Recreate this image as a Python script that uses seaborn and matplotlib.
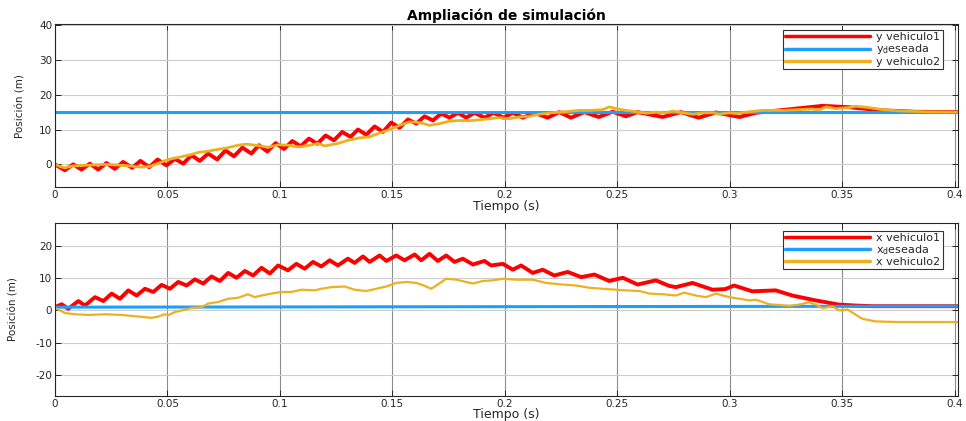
import numpy as np
import pandas as pd
import matplotlib
matplotlib.use("Agg")
import matplotlib.pyplot as plt
import seaborn as sns
from matplotlib.ticker import FormatStrFormatter

# ====================== datos ======================
t_des = [0.0, 0.402]
y_des = [15.0, 15.0]
x_des = [1.0, 1.3]

# (tiempo, posicion) - y vehiculo1
y_veh1 = [
    (0.0000, 0.0), (0.0044, -1.7), (0.0081, 0.0), (0.0118, -1.5), (0.0155, 0.2),
    (0.0192, -1.5), (0.0229, 0.4), (0.0266, -1.3), (0.0303, 0.7), (0.0343, -1.0),
    (0.0380, 1.0), (0.0419, -0.8), (0.0456, 1.4), (0.0496, -0.3), (0.0533, 1.6),
    (0.0570, 0.2), (0.0607, 2.6), (0.0644, 1.0), (0.0681, 3.1), (0.0721, 1.4),
    (0.0758, 4.0), (0.0796, 2.3), (0.0833, 4.8), (0.0873, 3.1), (0.0907, 5.5),
    (0.0944, 3.7), (0.0981, 6.1), (0.1018, 4.4), (0.1055, 6.7), (0.1092, 5.2),
    (0.1129, 7.4), (0.1166, 5.9), (0.1203, 8.3), (0.1240, 6.9), (0.1277, 9.3),
    (0.1314, 7.9), (0.1347, 10.0), (0.1384, 8.5), (0.1421, 10.9), (0.1458, 9.3),
    (0.1495, 12.0), (0.1532, 10.5), (0.1569, 12.9), (0.1606, 11.7), (0.1643, 13.8),
    (0.1680, 12.6), (0.1717, 14.6), (0.1754, 13.4), (0.1791, 14.8), (0.1828, 13.4),
    (0.1865, 14.8), (0.1910, 13.4), (0.1950, 14.8), (0.1994, 13.4), (0.2035, 14.8),
    (0.2080, 13.4), (0.2131, 14.8), (0.2190, 13.4), (0.2242, 15.0), (0.2294, 13.4),
    (0.2353, 15.0), (0.2417, 13.6), (0.2479, 15.1), (0.2538, 13.8), (0.2590, 15.0),
    (0.2701, 13.6), (0.2783, 15.0), (0.2861, 13.4), (0.2938, 14.9), (0.3042, 13.6),
    (0.3116, 14.8), (0.3204, 15.4), (0.3308, 16.1), (0.3412, 16.8), (0.3530, 16.4),
    (0.3678, 15.5), (0.3826, 15.1), (0.4020, 15.0),
]

# y vehiculo2
y_veh2 = [
    (0.0000, 0.0), (0.0022, -0.6), (0.0044, -1.0), (0.0074, -0.5), (0.0118, -0.3),
    (0.0163, -0.2), (0.0222, 0.0), (0.0281, -0.2), (0.0340, -0.5), (0.0385, -0.8),
    (0.0422, -0.6), (0.0459, 0.3), (0.0503, 1.4), (0.0548, 2.0), (0.0592, 2.6),
    (0.0636, 3.4), (0.0681, 3.8), (0.0725, 4.3), (0.0770, 4.8), (0.0814, 5.5),
    (0.0851, 5.8), (0.0903, 5.4), (0.0947, 4.9), (0.0992, 5.6), (0.1036, 5.5),
    (0.1080, 5.0), (0.1125, 5.4), (0.1169, 6.0), (0.1199, 5.3), (0.1258, 6.0),
    (0.1302, 6.9), (0.1332, 7.3), (0.1354, 7.6), (0.1399, 7.9), (0.1443, 9.0),
    (0.1488, 10.0), (0.1532, 11.2), (0.1576, 12.2), (0.1621, 12.0), (0.1665, 11.2),
    (0.1710, 11.7), (0.1754, 12.4), (0.1798, 12.6), (0.1843, 12.5), (0.1887, 12.8),
    (0.1932, 13.1), (0.1976, 13.4), (0.2020, 13.1), (0.2065, 13.6), (0.2109, 13.8),
    (0.2154, 14.4), (0.2198, 14.8), (0.2242, 15.0), (0.2287, 15.2), (0.2331, 15.5),
    (0.2376, 15.5), (0.2435, 15.7), (0.2464, 16.5), (0.2494, 16.0), (0.2538, 15.5),
    (0.2583, 15.1), (0.2627, 14.7), (0.2672, 15.0), (0.2716, 14.8), (0.2746, 15.3),
    (0.2790, 14.8), (0.2834, 14.4), (0.2879, 14.8), (0.2923, 14.8), (0.2953, 14.4),
    (0.2997, 14.8), (0.3027, 14.6), (0.3086, 15.1), (0.3145, 15.5), (0.3234, 15.5),
    (0.3308, 15.7), (0.3367, 15.9), (0.3397, 15.6), (0.3426, 16.5), (0.3471, 16.0),
    (0.3530, 16.3), (0.3560, 16.7), (0.3619, 16.3), (0.3678, 15.7), (0.3767, 15.3),
    (0.3870, 15.1), (0.4020, 15.0),
]

# x vehiculo1
x_veh1 = [
    (0.0000, 1.0), (0.0030, 1.9), (0.0059, 0.5), (0.0104, 2.9), (0.0133, 1.5),
    (0.0178, 4.1), (0.0215, 2.9), (0.0252, 5.2), (0.0289, 3.6), (0.0326, 6.2),
    (0.0363, 4.6), (0.0400, 6.7), (0.0437, 5.7), (0.0474, 7.9), (0.0511, 6.7),
    (0.0548, 8.8), (0.0585, 7.7), (0.0622, 9.6), (0.0659, 8.3), (0.0696, 10.5),
    (0.0733, 9.1), (0.0770, 11.6), (0.0807, 10.1), (0.0844, 12.2), (0.0881, 10.8),
    (0.0918, 13.2), (0.0955, 11.4), (0.0992, 13.9), (0.1036, 12.4), (0.1073, 14.4),
    (0.1110, 12.9), (0.1147, 15.0), (0.1184, 13.6), (0.1221, 15.5), (0.1258, 13.9),
    (0.1302, 16.0), (0.1332, 14.7), (0.1369, 16.7), (0.1399, 15.0), (0.1443, 17.0),
    (0.1473, 15.3), (0.1517, 17.0), (0.1554, 15.5), (0.1599, 17.3), (0.1628, 15.5),
    (0.1665, 17.5), (0.1702, 15.3), (0.1739, 17.0), (0.1776, 15.0), (0.1813, 16.0),
    (0.1858, 14.2), (0.1909, 15.3), (0.1939, 13.9), (0.1991, 14.4), (0.2035, 12.6),
    (0.2072, 13.9), (0.2124, 11.6), (0.2168, 12.6), (0.2220, 10.8), (0.2279, 11.9),
    (0.2339, 10.3), (0.2398, 11.1), (0.2464, 9.1), (0.2524, 10.1), (0.2590, 8.0),
    (0.2671, 9.3), (0.2730, 7.6), (0.2760, 7.2), (0.2834, 8.5), (0.2923, 6.4),
    (0.2980, 6.6), (0.3019, 7.7), (0.3100, 5.9), (0.3204, 6.2), (0.3278, 4.6),
    (0.3381, 3.1), (0.3485, 1.8), (0.3560, 1.5), (0.3633, 1.3), (0.4020, 1.3),
]

# x vehiculo2
x_veh2 = [
    (0.0000, 0.8), (0.0044, -0.8), (0.0089, -1.2), (0.0148, -1.4), (0.0222, -1.2),
    (0.0296, -1.4), (0.0370, -1.9), (0.0429, -2.3), (0.0459, -1.9), (0.0488, -1.2),
    (0.0503, -1.5), (0.0533, -0.5), (0.0577, 0.2), (0.0607, 0.8), (0.0651, 1.0),
    (0.0681, 2.1), (0.0725, 2.6), (0.0770, 3.6), (0.0814, 3.9), (0.0858, 5.0),
    (0.0888, 4.1), (0.0918, 4.6), (0.0962, 5.2), (0.1006, 5.7), (0.1051, 5.7),
    (0.1095, 6.4), (0.1154, 6.2), (0.1184, 6.7), (0.1228, 7.2), (0.1288, 7.4),
    (0.1332, 6.4), (0.1384, 6.0), (0.1428, 6.7), (0.1473, 7.4), (0.1517, 8.5),
    (0.1562, 8.8), (0.1606, 8.5), (0.1640, 7.7), (0.1673, 6.7), (0.1695, 7.7),
    (0.1739, 9.8), (0.1784, 9.5), (0.1828, 8.8), (0.1858, 8.3), (0.1902, 9.1),
    (0.1946, 9.3), (0.1991, 9.8), (0.2050, 9.5), (0.2124, 9.5), (0.2183, 8.5),
    (0.2257, 8.0), (0.2316, 7.7), (0.2376, 7.0), (0.2435, 6.7), (0.2494, 6.4),
    (0.2538, 6.2), (0.2598, 6.0), (0.2642, 5.2), (0.2701, 5.0), (0.2760, 4.6),
    (0.2797, 5.5), (0.2849, 4.6), (0.2894, 4.1), (0.2938, 5.2), (0.2997, 4.1),
    (0.3042, 3.6), (0.3086, 3.1), (0.3116, 3.3), (0.3175, 1.9), (0.3264, 1.4),
    (0.3308, 1.8), (0.3352, 2.5), (0.3382, 1.8), (0.3412, 0.7), (0.3456, 1.2),
    (0.3486, 0.0), (0.3523, 0.3), (0.3552, -1.0), (0.3589, -2.6), (0.3648, -3.4),
    (0.3752, -3.6), (0.4020, -3.6),
]

x_ticks = [0, 0.05, 0.1, 0.15, 0.2, 0.25, 0.3, 0.35, 0.4]
top_yticks = [0, 10, 20, 30, 40]
bot_yticks = [-20, -10, 0, 10, 20]

RED = "#ff0000"
BLUE = "#1a9fff"
ORANGE = "#edb120"
DARK = "#262626"

# ====================== estilo ======================
sns.set_theme(style="whitegrid")
plt.rcParams["font.family"] = ["DejaVu Sans"]
plt.rcParams["mathtext.fontset"] = "dejavusans"
plt.rcParams["axes.unicode_minus"] = False

fig = plt.figure(figsize=(9.66, 4.21), dpi=100)
ax_top = fig.add_axes([0.0569, 0.555, 0.935, 0.388])
ax_bot = fig.add_axes([0.0569, 0.060, 0.935, 0.410])


def to_df(pts):
    return pd.DataFrame(pts, columns=["t", "pos"])


def style_axes(ax, yticks, ylim):
    ax.set_xlim(0, 0.4015)
    ax.set_ylim(*ylim)
    ax.set_xticks(x_ticks)
    ax.set_yticks(yticks)
    ax.xaxis.set_major_formatter(FormatStrFormatter("%g"))
    ax.set_axisbelow(True)
    ax.xaxis.grid(True, color="#8c8c8c", lw=0.8)
    ax.yaxis.grid(True, color="#cdcdcd", lw=0.8)
    for sp in ax.spines.values():
        sp.set_visible(True)
        sp.set_color(DARK)
        sp.set_linewidth(0.8)
    ax.tick_params(direction="in", length=4, width=0.7, top=True, right=True,
                   bottom=True, left=True, labelsize=7.5, colors=DARK, pad=2)
    ax.set_xlabel("Tiempo (s)", fontsize=9, color=DARK)
    ax.set_ylabel("Posición (m)", fontsize=7.5, color=DARK)


# ====================== subplot superior ======================
sns.lineplot(data=to_df(y_veh1), x="t", y="pos", ax=ax_top, color=RED, lw=2.8,
             estimator=None, sort=False, label="y vehiculo1")
sns.lineplot(x=t_des, y=y_des, ax=ax_top, color=BLUE, lw=2.2,
             estimator=None, sort=False, label="y$_\\mathrm{d}$eseada")
sns.lineplot(data=to_df(y_veh2), x="t", y="pos", ax=ax_top, color=ORANGE, lw=2.0,
             estimator=None, sort=False, label="y vehiculo2")
style_axes(ax_top, top_yticks, (-6.6, 40.3))
ax_top.set_title("Ampliación de simulación", fontsize=10, fontweight="bold",
                 color="black", pad=3)
ax_top.xaxis.set_label_coords(0.5, -0.075)
ax_top.yaxis.set_label_coords(-0.033, 0.5)

# ====================== subplot inferior ======================
sns.lineplot(data=to_df(x_veh1), x="t", y="pos", ax=ax_bot, color=RED, lw=2.8,
             estimator=None, sort=False, label="x vehiculo1")
sns.lineplot(x=t_des, y=x_des, ax=ax_bot, color=BLUE, lw=2.2,
             estimator=None, sort=False, label="x$_\\mathrm{d}$eseada")
sns.lineplot(data=to_df(x_veh2), x="t", y="pos", ax=ax_bot, color=ORANGE, lw=1.6,
             estimator=None, sort=False, label="x vehiculo2")
style_axes(ax_bot, bot_yticks, (-26.4, 27.0))
ax_bot.xaxis.set_label_coords(0.5, -0.072)
ax_bot.yaxis.set_label_coords(-0.040, 0.5)

for ax, anchor in ((ax_top, (0.983, 0.963)), (ax_bot, (0.983, 0.957))):
    leg = ax.legend(loc="upper right", bbox_to_anchor=anchor, fontsize=8,
                    handlelength=7.6, handletextpad=0.6, labelspacing=0.02,
                    borderpad=0.2, borderaxespad=0, fancybox=False,
                    framealpha=1, edgecolor="#333333")
    leg.get_frame().set_linewidth(0.8)
    for h in leg.get_lines():
        h.set_linewidth(2.5)

fig.savefig("out.png", dpi=100)
